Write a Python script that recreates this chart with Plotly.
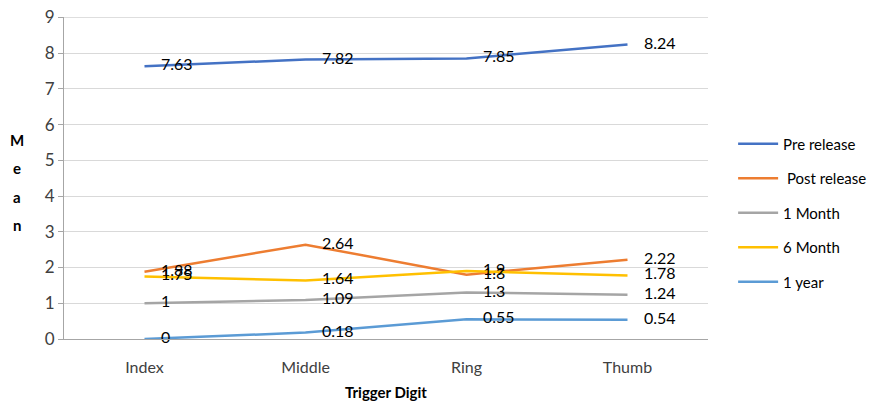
import plotly.graph_objects as go

categories = ["Index", "Middle", "Ring", "Thumb"]
series_names = ["Pre release", " Post release", "1 Month", "6 Month", "1 year"]
pre_release = [7.63, 7.82, 7.85, 8.24]
post_release = [1.88, 2.64, 1.8, 2.22]
one_month = [1, 1.09, 1.3, 1.24]
six_month = [1.75, 1.64, 1.9, 1.78]
one_year = [0, 0.18, 0.55, 0.54]
y_ticks = list(range(0, 10))

colors = ["#4472C4", "#ED7D31", "#A5A5A5", "#FFC000", "#5B9BD5"]
all_values = [pre_release, post_release, one_month, six_month, one_year]

FONT = "Lato, Carlito, Calibri, sans-serif"

fig = go.Figure()
for i, (name, vals, col) in enumerate(zip(series_names, all_values, colors)):
    fig.add_trace(go.Scatter(
        x=categories, y=vals, name=name, mode="lines+text",
        line=dict(color=col, width=2.5),
        text=[f"    {v:g}" for v in vals],
        textposition="middle right",
        textfont=dict(family=FONT, size=16, color="#000000"),
        legendgroup=f"g{i}",
        cliponaxis=False,
    ))

fig.update_layout(
    width=880, height=405,
    margin=dict(l=64, r=172, t=17, b=66, autoexpand=False),
    paper_bgcolor="white", plot_bgcolor="white",
    font=dict(family=FONT, size=15, color="#404040"),
    showlegend=True,
    legend=dict(x=1.039, y=0.657, xanchor="left", yanchor="top",
                traceorder="grouped", tracegroupgap=12,
                font=dict(family=FONT, size=15, color="#000000"),
                itemwidth=40),
    xaxis=dict(
        categoryorder="array", categoryarray=categories,
        showline=True, linecolor="#A6A6A6", linewidth=1,
        showgrid=False, ticks="outside", ticklen=14, tickcolor="rgba(0,0,0,0)",
        tickfont=dict(family=FONT, size=16, color="#404040"),
        range=[-0.5, 3.5], automargin=False,
    ),
    yaxis=dict(
        range=[0, 9.01], tickvals=y_ticks, showgrid=True, gridcolor="#D9D9D9",
        showline=True, linecolor="#A6A6A6", linewidth=1,
        ticks="outside", ticklen=5, tickcolor="#A6A6A6",
        tickfont=dict(family=FONT, size=17, color="#404040"),
        zeroline=False, automargin=False,
    ),
)

# top gridline at the last tick (plotly drops gridlines at the plot edge)
fig.add_shape(type="line", xref="paper", yref="y", x0=0, x1=1,
              y0=y_ticks[-1], y1=y_ticks[-1], line=dict(color="#D9D9D9", width=1),
              layer="below")

# Vertical stacked y-axis title "Mean"
for letter, ypx in zip("Mean", [140, 168, 197, 225]):
    fig.add_annotation(
        text=f"<b>{letter}</b>", xref="paper", yref="paper",
        x=(17 - 64) / 644, y=(339 - ypx) / 322, xanchor="center", yanchor="middle",
        showarrow=False, font=dict(family=FONT, size=15, color="#000000"),
    )

fig.add_annotation(
    text="<b>Trigger Digit</b>", xref="paper", yref="paper",
    x=0.5, y=(339 - 392) / 322, xanchor="center", yanchor="middle",
    showarrow=False, font=dict(family=FONT, size=15, color="#000000"),
)

fig.write_html(
    "out.html",
    config={"displayModeBar": False},
    post_script="document.body.style.margin='0';document.body.style.overflow='hidden';",
)
